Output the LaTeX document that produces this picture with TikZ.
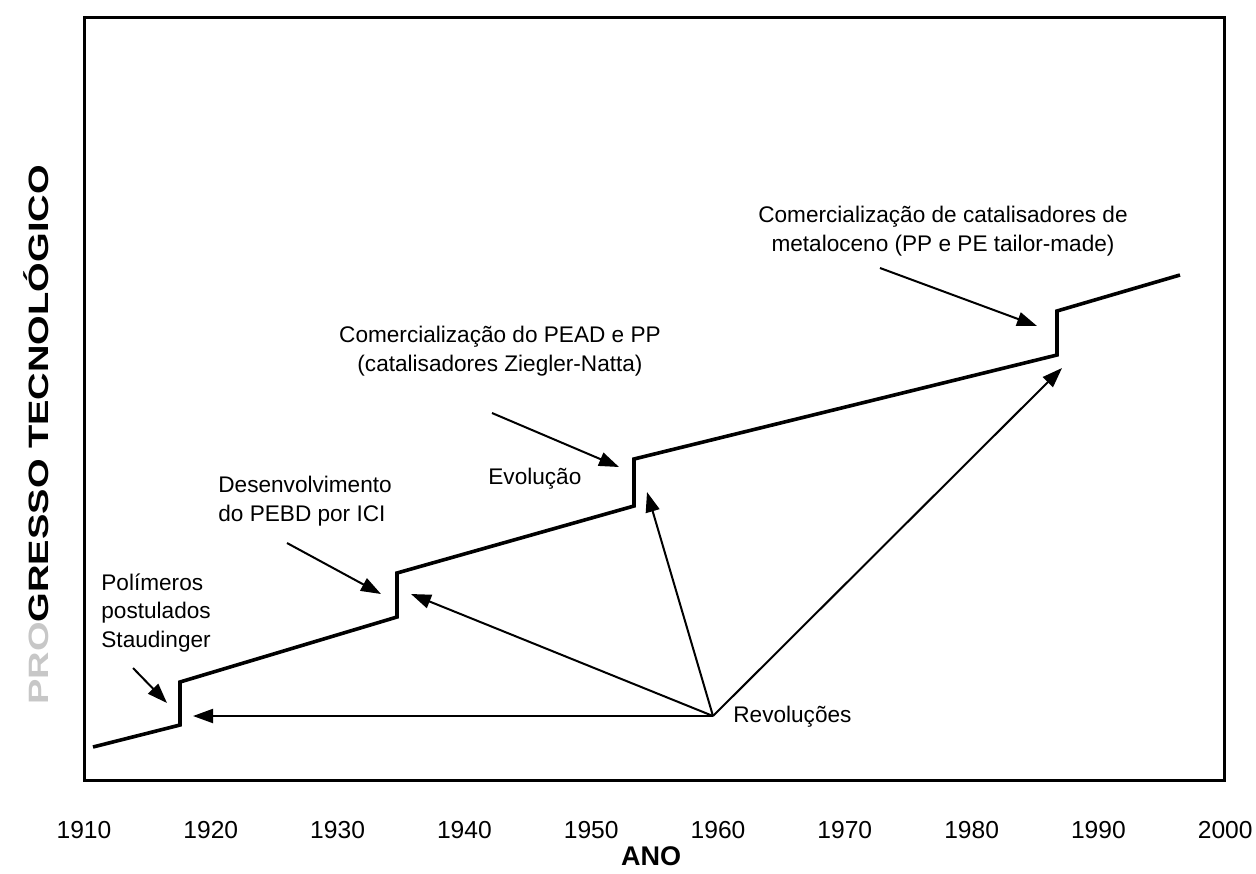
\documentclass[tikz,border=0pt]{standalone}
\usepackage{fontspec}
\setmainfont{Liberation Sans}
\usetikzlibrary{arrows.meta}
\begin{document}
\begin{tikzpicture}[x=0.5pt,y=-0.5pt,
  curve/.style={line width=1.8pt,line join=miter},
  callout/.style={line width=1pt,-{Triangle[length=10pt,width=7pt]}},
  lbl/.style={inner sep=0pt,font=\fontsize{11.3}{14.2}\selectfont},
  year/.style={inner sep=0pt,font=\fontsize{12.3}{14}\selectfont}]
\useasboundingbox (0,0) rectangle (1256,873);
% frame
\draw[line width=1.5pt] (84,17) rectangle (1224,780);
% curve points
\coordinate (c0) at (93,747);
\coordinate (c1) at (180,725);
\coordinate (c2) at (180,682);
\coordinate (c3) at (397,617);
\coordinate (c4) at (397,573);
\coordinate (c5) at (634,506);
\coordinate (c6) at (634,459);
\coordinate (c7) at (1057,355);
\coordinate (c8) at (1057,311);
\coordinate (c9) at (1180,275);
\draw[curve] (c0) -- (c1) -- (c2) -- (c3) -- (c4) -- (c5) -- (c6) -- (c7) -- (c8) -- (c9);
% labels
\node[lbl,align=left,anchor=west] (stau) at (101,613) {Polímeros\\postulados\\Staudinger};
\node[lbl,align=left,anchor=west] (pebd) at (218,501) {Desenvolvimento\\do PEBD por ICI};
\node[lbl,align=center] (pead) at (500,351) {Comercialização do PEAD e PP\\(catalisadores Ziegler-Natta)};
\node[lbl,align=center] (meta) at (943,231) {Comercialização de catalisadores de\\metaloceno (PP e PE tailor-made)};
\node[lbl,anchor=west] (evol) at (488,479) {Evolução};
\node[lbl,anchor=west] (revl) at (733,717) {Revoluções};
% callout arrows
\coordinate (s1) at (133,668); \coordinate (t1) at (167,703);
\coordinate (s2) at (287,543); \coordinate (t2) at (381,594);
\coordinate (s3) at (492,413); \coordinate (t3) at (619,467);
\coordinate (s4) at (880,268); \coordinate (t4) at (1037,326);
\draw[callout] (s1) -- (t1);
\draw[callout] (s2) -- (t2);
\draw[callout] (s3) -- (t3);
\draw[callout] (s4) -- (t4);
% revolution arrows
\coordinate (rev) at (713,716);
\coordinate (r1) at (193,716);
\coordinate (r2) at (411,594);
\coordinate (r3) at (647,492);
\coordinate (r4) at (1062,368);
\draw[callout] (rev) -- (r1);
\draw[callout] (rev) -- (r2);
\draw[callout] (rev) -- (r3);
\draw[callout] (rev) -- (r4);
% axis labels
\foreach \i/\y in {0/1910,1/1920,2/1930,3/1940,4/1950,5/1960,6/1970,7/1980,8/1990,9/2000}
  \node[year] (y\y) at ({84+\i*126.8},830) {\y};
\node[inner sep=0pt,font=\bfseries\fontsize{13.5}{15}\selectfont] (ano) at (651,856) {ANO};
\node[inner sep=0pt,rotate=90,font=\bfseries\fontsize{14}{16}\selectfont] (prog) at (36,435)
  {\scalebox{1.36}[1]{\textcolor{black!22}{PRO}GRESSO TECNOLÓGICO}};
\end{tikzpicture}
\end{document}
